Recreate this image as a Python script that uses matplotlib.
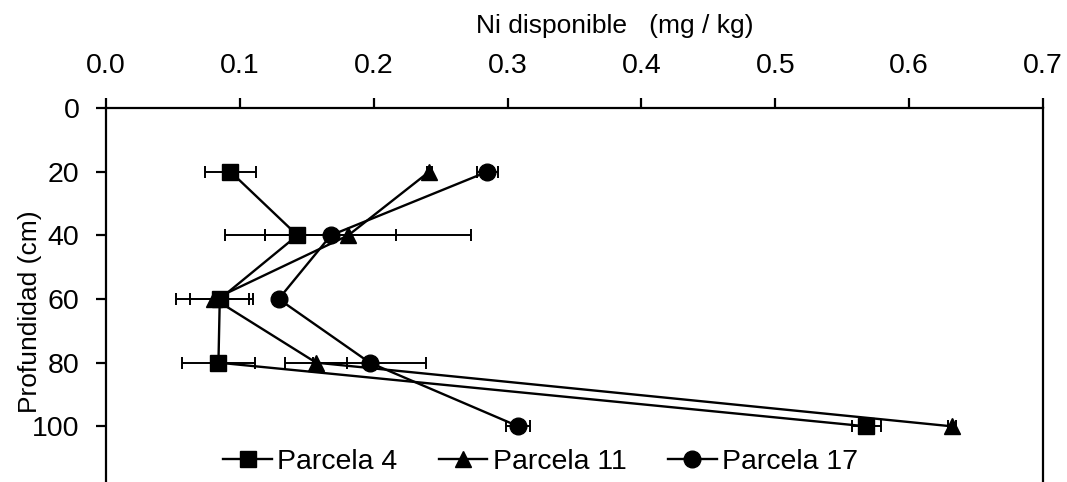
import numpy as np
import matplotlib.pyplot as plt
from matplotlib.lines import Line2D

plt.rcParams['font.family'] = ['Liberation Sans', 'DejaVu Sans']

# Profundidad de muestreo (cm)
profundidad = [20, 40, 60, 80, 100]

# Ni disponible (mg/kg) por parcela, con su error
p4 = [0.093, 0.143, 0.085, 0.084, 0.568]
p4_err = [0.019, 0.024, 0.022, 0.027, 0.011]

p11 = [0.2415, 0.181, 0.081, 0.157, 0.632]
p11_err = [0.002, 0.092, 0.029, 0.023, 0.003]

p17 = [0.285, 0.168, 0.129, 0.197, 0.308]
p17_err = [0.0075, 0.049, 0.002, 0.042, 0.009]

fig = plt.figure(figsize=(10.67, 4.82), dpi=100)
# el eje llega a 120 cm, la parte baja queda fuera de la figura
ax = fig.add_axes([106/1067, -8/482, 937/1067, 382/482])

estilo = dict(color='black', lw=1.7, elinewidth=1.4, capsize=4, capthick=1.4)
ax.errorbar(p4, profundidad, xerr=p4_err, marker='s', ms=12, **estilo)
ax.errorbar(p11, profundidad, xerr=p11_err, marker='^', ms=12, **estilo)
ax.errorbar(p17, profundidad, xerr=p17_err, marker='o', ms=12, **estilo)

ax.set_xlim(0, 0.7)
ax.set_ylim(120, 0)
ax.set_xticks(np.arange(0, 0.71, 0.1))
ax.set_xticklabels([f'{v:.1f}' for v in np.arange(0, 0.71, 0.1)])
ax.set_yticks([0, 20, 40, 60, 80, 100])

ax.xaxis.tick_top()
ax.xaxis.set_label_position('top')
ax.spines['bottom'].set_visible(False)
for s in ['top', 'left', 'right']:
    ax.spines[s].set_linewidth(1.6)
ax.tick_params(axis='both', direction='out', length=7, width=1.6, labelsize=20.5)
ax.tick_params(axis='x', pad=14)
ax.tick_params(axis='y', pad=12)

ax.set_xlabel('Ni disponible   (mg / kg)', fontsize=19, labelpad=14)
ax.xaxis.label.set_position((0.5427, 1.0))
ax.set_ylabel('Profundidad (cm)', fontsize=19)
ax.yaxis.set_label_coords(-0.068, 0.466)

# leyenda sin barras de error
marcas = [Line2D([], [], color='black', lw=1.7, marker=m, ms=12) for m in ['s', '^', 'o']]
ax.legend(marcas, ['Parcela 4', 'Parcela 11', 'Parcela 17'], loc='center',
          bbox_to_anchor=(0.464, 0.073), ncol=3, frameon=False, fontsize=20.5,
          handlelength=1.7, handletextpad=0.2, columnspacing=1.45)

fig.savefig('out.png', dpi=100)
